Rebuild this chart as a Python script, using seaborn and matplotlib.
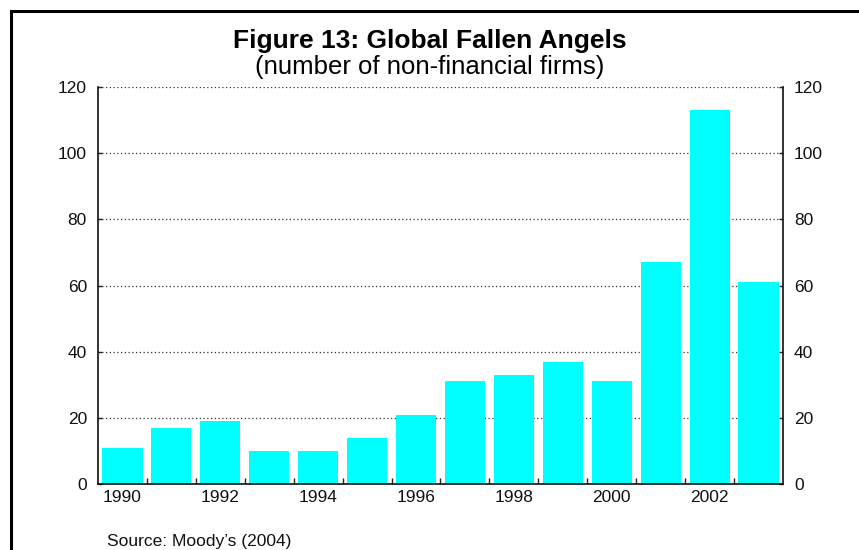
import numpy as np
import matplotlib
matplotlib.use("Agg")
import matplotlib.pyplot as plt
import matplotlib.patches as patches
from matplotlib.ticker import FixedLocator
import seaborn as sns

# data
years = [str(y) for y in range(1990, 2004)]
fallen_angels = [11, 17, 19, 10, 10, 14, 21, 31, 33, 37, 31, 67, 113, 61]
label_years = ["1990", "1992", "1994", "1996", "1998", "2000", "2002"]
y_ticks = [0, 20, 40, 60, 80, 100, 120]

sns.set_theme(style="white")
plt.rcParams['font.family'] = ['Liberation Sans', 'DejaVu Sans']

fig = plt.figure(figsize=(8.59, 5.5), dpi=100)
ax = fig.add_axes([0.1141, 0.12, 0.7974, 0.7218])

sns.barplot(x=years, y=fallen_angels, color="#00FFFF", saturation=1,
            width=0.82, ax=ax, edgecolor="none")

ax.set_xlim(-0.5, len(years) - 0.5)
ax.set_ylim(0, 120)
ax.set_axisbelow(True)

# x axis: labels every other year, small ticks between bars
ax.set_xticks([years.index(y) for y in label_years])
ax.set_xticklabels(label_years, fontsize=12.5, color="#111111")
ax.xaxis.set_minor_locator(FixedLocator(np.arange(0.5, len(years) - 0.5, 1)))
ax.tick_params(axis="x", which="major", length=0, pad=4)
ax.tick_params(axis="x", which="minor", direction="in", length=4, width=1,
               color="#222222", bottom=True)

# y axis on both sides
ax.set_yticks(y_ticks)
ax.set_yticklabels([str(v) for v in y_ticks], fontsize=12.5, color="#111111")
ax.tick_params(axis="y", direction="in", length=3, width=1, color="#222222",
               left=True, right=True, labelleft=True, labelright=True, pad=8)
ax.yaxis.grid(True, linestyle=(0, (1, 2)), color="#333333", linewidth=0.9)

for side in ["left", "bottom", "right"]:
    ax.spines[side].set_visible(True)
    ax.spines[side].set_color("#111111")
    ax.spines[side].set_linewidth(1.2)
ax.spines["top"].set_visible(False)

# titles and source
fig.text(0.5, 0.9127, "Figure 13: Global Fallen Angels", ha="center",
         va="baseline", fontsize=19, fontweight="bold", color="black")
fig.text(0.5, 0.8655, "(number of non-financial firms)", ha="center",
         va="baseline", fontsize=18.5, color="black")
fig.text(0.1245, 0.008, "Source: Moody\u2019s (2004)", ha="left",
         va="baseline", fontsize=12.5, color="#111111")

# black frame that runs off the right and bottom edges
frame = patches.Rectangle((0.0128, -0.05), 1.1, 0.05 + 0.9800,
                          transform=fig.transFigure, fill=False,
                          edgecolor="black", linewidth=2.2, clip_on=False)
fig.patches.append(frame)

fig.savefig("out.png", dpi=100)
